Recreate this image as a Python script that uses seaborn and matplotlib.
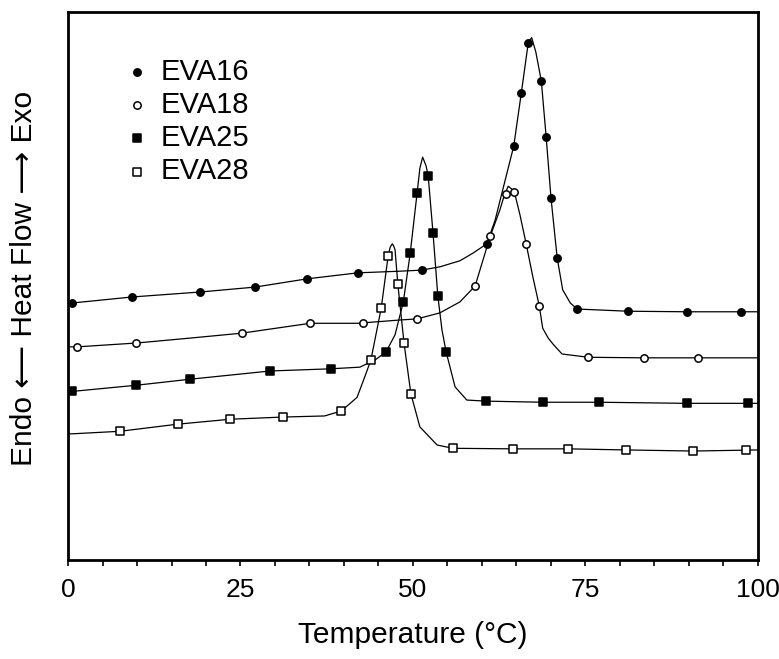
import matplotlib
matplotlib.use("Agg")
import matplotlib.pyplot as plt
import seaborn as sns

# ---- data (temperature in °C, heat flow in arbitrary units) ----
eva16_t = [0, 0.6, 9.3, 19.1, 27.1, 34.6, 42.0, 48.1, 51.3, 53.9, 56.8, 58.7, 60.7, 61.9, 63.3,
           64.6, 65.7, 66.7, 67.2, 67.8, 68.6, 69.3, 70.0, 70.9, 71.7, 72.8, 73.8, 81.2, 89.7, 97.5, 100]
eva16_y = [46.9, 46.9, 48.0, 48.9, 49.8, 51.3, 52.4, 52.7, 52.9, 53.5, 54.6, 56.0, 57.7, 62.0, 69.0,
           75.5, 85.2, 94.3, 95.3, 92.7, 87.4, 77.2, 66.1, 55.1, 49.3, 46.9, 45.8, 45.4, 45.3, 45.3, 45.3]
eva16_mt = [0.6, 9.3, 19.1, 27.1, 34.6, 42.0, 51.3, 60.7, 64.6, 65.7, 66.7, 68.6, 69.3, 70.0, 70.9,
            73.8, 81.2, 89.7, 97.5]
eva16_my = [46.9, 48.0, 48.9, 49.8, 51.3, 52.4, 52.9, 57.7, 75.5, 85.2, 94.3, 87.4, 77.2, 66.1, 55.1,
            45.8, 45.4, 45.3, 45.3]

eva18_t = [0, 1.3, 9.9, 17.7, 25.2, 35.1, 42.0, 48.1, 50.6, 53.9, 56.8, 59.0, 61.2, 62.6, 63.2, 63.8,
           64.3, 64.9, 65.5, 66.4, 67.4, 68.3, 68.8, 69.6, 70.3, 71.6, 75.4, 83.5, 91.3, 100]
eva18_y = [38.9, 38.9, 39.6, 40.5, 41.4, 43.2, 43.2, 43.8, 44.0, 45.1, 47.1, 50.0, 59.1, 63.9, 66.4, 68.2,
           67.7, 66.1, 63.0, 57.7, 51.5, 46.4, 42.3, 40.5, 39.4, 37.6, 37.0, 36.9, 36.9, 36.9]
eva18_mt = [1.3, 9.9, 25.2, 35.1, 42.8, 50.6, 59.0, 61.2, 63.5, 64.6, 66.4, 68.3, 75.4, 83.5, 91.3]
eva18_my = [38.9, 39.6, 41.4, 43.2, 43.2, 44.0, 50.0, 59.1, 66.8, 67.2, 57.7, 46.4, 37.0, 36.9, 36.9]

eva25_t = [0, 9.9, 17.7, 29.3, 38.1, 42.3, 44.5, 46.1, 47.4, 48.6, 49.6, 50.6, 51.0, 51.4, 51.9, 52.2,
           52.9, 53.6, 54.2, 54.8, 56.1, 57.8, 60.6, 68.8, 77.0, 89.7, 100]
eva25_y = [30.7, 31.9, 33.0, 34.5, 34.9, 35.2, 36.5, 38.0, 41.1, 47.1, 56.0, 67.0, 71.5, 73.5, 71.9, 70.1,
           59.7, 48.2, 42.0, 38.0, 31.6, 29.2, 29.0, 28.8, 28.8, 28.6, 28.6]
eva25_mt = [0.6, 9.9, 17.7, 29.3, 38.1, 46.1, 48.6, 49.6, 50.6, 52.2, 52.9, 53.6, 54.8, 60.6, 68.8,
            77.0, 89.7, 98.6]
eva25_my = [30.8, 31.9, 33.0, 34.5, 34.9, 38.0, 47.1, 56.0, 67.0, 70.1, 59.7, 48.2, 38.0, 29.0, 28.8,
            28.8, 28.6, 28.6]

eva28_t = [0, 7.5, 15.9, 23.5, 31.2, 37.2, 39.6, 40.9, 41.9, 43.0, 43.9, 45.4, 46.4, 46.7, 47.0, 47.2,
           47.4, 47.8, 48.7, 49.7, 51.0, 53.5, 55.8, 64.5, 72.5, 80.9, 90.6, 100]
eva28_y = [23.0, 23.5, 24.8, 25.7, 26.1, 26.3, 27.2, 28.6, 29.7, 33.4, 36.5, 46.0, 55.5, 57.1, 57.7, 57.3,
           56.6, 50.4, 39.6, 30.3, 24.3, 21.0, 20.4, 20.3, 20.3, 20.1, 19.9, 20.1]
eva28_mt = [7.5, 15.9, 23.5, 31.2, 39.6, 43.9, 45.4, 46.4, 47.8, 48.7, 49.7, 55.8, 64.5, 72.5, 80.9,
            90.6, 98.3]
eva28_my = [23.5, 24.8, 25.7, 26.1, 27.2, 36.5, 46.0, 55.5, 50.4, 39.6, 30.3, 20.4, 20.3, 20.3, 20.1,
            19.9, 20.1]

series_names = ["EVA16", "EVA18", "EVA25", "EVA28"]
x_ticks = [0, 25, 50, 75, 100]

sns.set_theme(style="white")
plt.rcParams["font.family"] = ["Liberation Sans", "DejaVu Sans"]
plt.rcParams["text.color"] = "black"
plt.rcParams["axes.labelcolor"] = "black"
plt.rcParams["xtick.color"] = "black"

fig = plt.figure(figsize=(7.79, 6.59), dpi=100)
ax = fig.add_axes([0.0873, 0.150, 0.8857, 0.832])

lines = [(eva16_t, eva16_y), (eva18_t, eva18_y), (eva25_t, eva25_y), (eva28_t, eva28_y)]
marks = [(eva16_mt, eva16_my), (eva18_mt, eva18_my), (eva25_mt, eva25_my), (eva28_mt, eva28_my)]
styles = [("o", "black", 28), ("o", "white", 28), ("s", "black", 34), ("s", "white", 34)]

for name, (lt, ly), (mt, my), (mk, fc, sz) in zip(series_names, lines, marks, styles):
    sns.lineplot(x=lt, y=ly, ax=ax, color="black", linewidth=0.9, legend=False,
                 sort=False, estimator=None)
    sns.scatterplot(x=mt, y=my, ax=ax, marker=mk, s=sz, facecolor=fc, edgecolor="black",
                    linewidth=1.1, label=name, zorder=3)

ax.set_xlim(0, 100)
ax.set_ylim(0, 100)
ax.set_yticks([])
ax.set_xticks(x_ticks)
ax.set_xticks(range(0, 101, 5), minor=True)
ax.tick_params(axis="x", which="both", direction="out", bottom=True, length=4, width=1.2,
               color="black", labelcolor="black", labelsize=19, pad=8.5)
for sp in ax.spines.values():
    sp.set_visible(True)
    sp.set_color("black")
    sp.set_linewidth(2)

ax.set_xlabel("Temperature (°C)", fontsize=21.5, labelpad=14, color="black")
ax.set_ylabel("Endo \u27F5 Heat Flow \u27F6 Exo", fontsize=21.5, color="black")
ax.yaxis.set_label_coords(-0.043, 0.513)

leg = ax.legend(loc="upper left", bbox_to_anchor=(0.062, 0.938), frameon=False, fontsize=21,
                handletextpad=0.3, labelspacing=0.18, borderaxespad=0, handlelength=1.0,
                labelcolor="black")

fig.savefig("out.png", dpi=100)
